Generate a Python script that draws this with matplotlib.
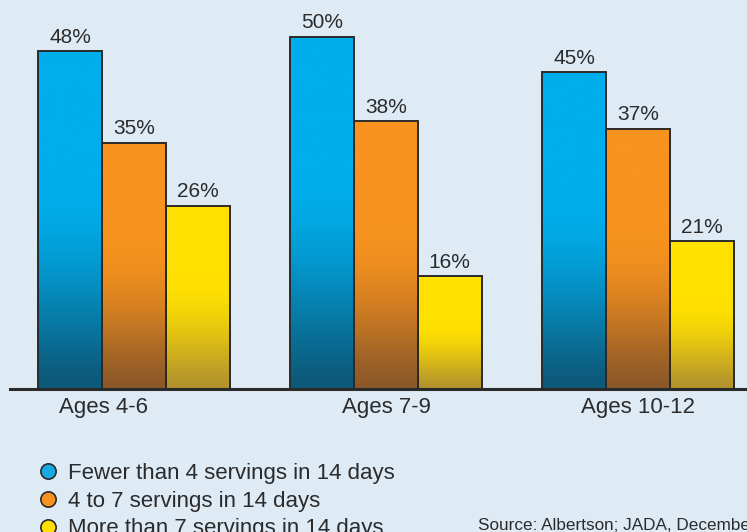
import numpy as np
import matplotlib
matplotlib.use("Agg")
import matplotlib.pyplot as plt
from matplotlib.lines import Line2D
from matplotlib.colors import to_rgb
from matplotlib import font_manager

categories = ["Ages 4-6", "Ages 7-9", "Ages 10-12"]
series_names = ["Fewer than 4 servings in 14 days",
                "4 to 7 servings in 14 days",
                "More than 7 servings in 14 days"]
fewer_than_4 = [48, 50, 45]
four_to_7 = [35, 38, 37]
more_than_7 = [26, 16, 21]
source_text = "Source: Albertson; JADA, December"

series = [fewer_than_4, four_to_7, more_than_7]
top_colors = ["#00aeec", "#f7931e", "#ffe100"]
bottom_colors = ["#0d5878", "#8c5829", "#b3922e"]
legend_colors = ["#18a8e2", "#f7921f", "#ffe000"]
bg = "#deebf5"

names = {f.name for f in font_manager.fontManager.ttflist}
narrow = "Liberation Sans Narrow" if "Liberation Sans Narrow" in names else "Liberation Sans"

W, H = 747, 532
fig = plt.figure(figsize=(W / 100, H / 100), dpi=100, facecolor=bg)
ax = fig.add_axes([0, 143 / H, 1, 389 / H])
ax.set_facecolor(bg)
px_per_unit = 252.0
for s in ax.spines.values():
    s.set_visible(False)
ax.set_yticks([])

w = 63.7 / px_per_unit
x = np.arange(len(categories))

def grad_bar(x0, h, ctop, cbot):
    n = 200
    t = np.linspace(0, 1, n)  # 0 bottom -> 1 top
    s = np.clip(t / 0.62, 0, 1)
    s = np.sin(s * np.pi / 2) ** 1.3
    ct, cb = np.array(to_rgb(ctop)), np.array(to_rgb(cbot))
    img = cb[None, :] + (ct - cb)[None, :] * s[:, None]
    img = img[:, None, :]
    ax.imshow(img, extent=[x0, x0 + w, 0, h], origin="lower",
              aspect="auto", interpolation="bilinear", zorder=2)

for i, vals in enumerate(series):
    offs = (i - 1) * w
    for xi, v in zip(x, vals):
        x0 = xi + offs - w / 2
        grad_bar(x0, v, top_colors[i], bottom_colors[i])
    ax.bar(x + offs, vals, width=w, facecolor="none", edgecolor="#2a2a2a",
           linewidth=1.4, zorder=3)
    for xi, v in zip(x, vals):
        ax.text(xi + offs, v + 0.65, f"{v}%", ha="center", va="bottom",
                fontsize=15, color="#2b2b2b", family="Liberation Sans", zorder=4)

ax.set_xlim(-134 / px_per_unit, (W - 134) / px_per_unit)
ax.set_ylim(0, 389 / 7.04)
ax.axhline(0, xmin=10 / W, xmax=1, color="#2a2a2a", linewidth=2.2, zorder=5,
           clip_on=False)

ax.set_xticks([x[0] - 0.12, x[1], x[2]])
ax.set_xticklabels(categories, fontsize=16, color="#2b2b2b", family=narrow)
ax.tick_params(axis="x", length=0, pad=6)

handles = [Line2D([0], [0], marker="o", linestyle="none", markersize=11,
                  markerfacecolor=c, markeredgecolor="#2a2a2a", markeredgewidth=1.2)
           for c in legend_colors]
leg = fig.legend(handles, series_names, loc="upper left",
                 bbox_to_anchor=(24 / W, 1 - 452 / H), frameon=False,
                 prop={"family": narrow, "size": 16}, labelcolor="#2b2b2b",
                 handletextpad=0.3, labelspacing=0.3, borderpad=0, handlelength=1.2)

fig.text(478 / W, 1 - 533 / H, source_text, fontsize=12.3, color="#2b2b2b",
         family=narrow, ha="left", va="bottom")

fig.savefig("out.png", dpi=100, facecolor=bg)
